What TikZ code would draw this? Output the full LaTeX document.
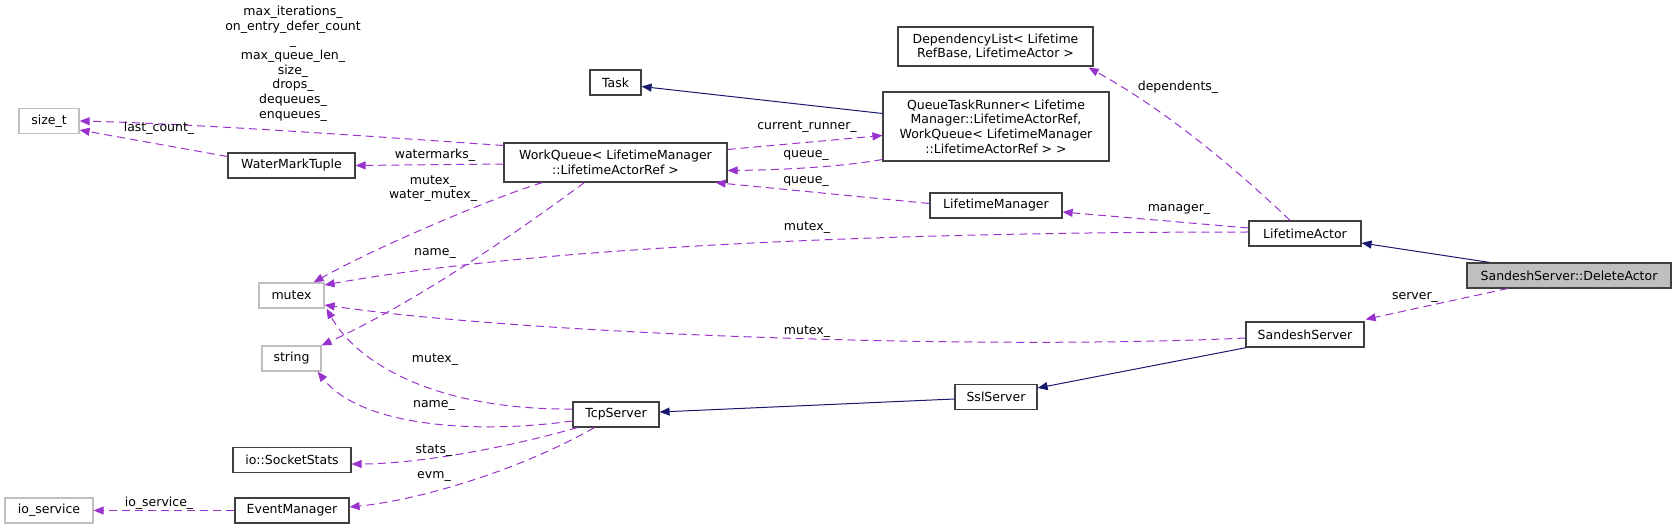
\documentclass[tikz,border=0pt]{standalone}
\usepackage{fontspec}
\setmainfont{DejaVu Sans}
\usepackage{tikz}
\usetikzlibrary{arrows.meta, calc}
\definecolor{uses}{HTML}{9A32CD}
\definecolor{inherit}{HTML}{191970}
\definecolor{undoc}{HTML}{BFBFBF}
\definecolor{boxline}{HTML}{404040}

\begin{document}
\begin{tikzpicture}[
        x=1pt, y=-1pt,
        font=\fontsize{12.5}{14.7}\selectfont,
        cls/.style={draw=boxline, fill=white, line width=1.2pt,
                    minimum height=25, inner sep=2pt, align=center},
        ext/.style={cls, draw=undoc},
        cur/.style={cls, fill=undoc},
        mem/.style={-{Triangle[length=10pt, width=8pt]}, uses, line width=1pt,
                    dash pattern=on 8pt off 5pt},
        base/.style={-{Triangle[length=10pt, width=8pt]}, inherit, line width=1pt},
        lbl/.style={inner sep=0pt, align=center},
      ]
        \useasboundingbox (0,0) rectangle (1677,529);

        % classes
        \node[ext, minimum width=60]  (sizet)     at (49,121)     {size\_t};
        \node[cls, minimum width=127] (wmt)       at (291.5,165.5){WaterMarkTuple};
        \node[cls, minimum width=223, minimum height=39] (wq) at (615.5,162.5)
          {WorkQueue< LifetimeManager\\::LifetimeActorRef >};
        \node[cls, minimum width=51]  (task)      at (615.5,82.5) {Task};
        \node[cls, minimum width=226, minimum height=69] (qtr) at (996,126.5)
          {QueueTaskRunner< Lifetime\\Manager::LifetimeActorRef,\\ WorkQueue< LifetimeManager\\::LifetimeActorRef > >};
        \node[cls, minimum width=195, minimum height=39] (deplist) at (995.5,46.5)
          {DependencyList< Lifetime\\RefBase, LifetimeActor >};
        \node[cls, minimum width=132] (lmgr)      at (996,205.5)  {LifetimeManager};
        \node[cls, minimum width=112] (lactor)    at (1305,233.5) {LifetimeActor};
        \node[cur, minimum width=204] (delact)    at (1569,275.5) {SandeshServer::DeleteActor};
        \node[cls, minimum width=118] (sserver)   at (1305,334.5) {SandeshServer};
        \node[cls, minimum width=82]  (ssl)       at (996,397)    {SslServer};
        \node[cls, minimum width=86]  (tcp)       at (616,414.5)  {TcpServer};
        \node[ext, minimum width=65]  (mutex)     at (291.5,295.5){mutex};
        \node[ext, minimum width=59]  (string)    at (291.5,358.5){string};
        \node[cls, minimum width=118] (sockstats) at (292,460)    {io::SocketStats};
        \node[cls, minimum width=114] (evmgr)     at (292,510.5)  {EventManager};
        \node[ext, minimum width=88]  (ioservice) at (49,510.5)   {io\_service};

        % inheritance
        \draw[base] ($(qtr.west)+(0,-13)$) -- ($(task.east)+(0,4)$);
        \draw[base] ($(delact.north west)+(23,0)$) -- ($(lactor.east)+(0,9.5)$);
        \draw[base] ($(sserver.south west)+(1,0)$) -- ($(ssl.east)+(0,-9)$);
        \draw[base] ($(ssl.west)+(0,2)$) -- ($(tcp.east)+(0,-2.5)$);

        % members
        \draw[mem] ($(wq.west)+(0,-17)$) .. controls (380,137) and (200,124) .. (sizet.east);
        \draw[mem] ($(wmt.west)+(0,-9)$) -- ($(sizet.east)+(0,9)$);
        \draw[mem] ($(wq.west)+(0,1.5)$) -- (wmt.east);
        \draw[mem] ($(wq.east)+(0,-13)$) -- ($(qtr.west)+(0,9)$);
        \draw[mem] ($(qtr.west)+(0,33)$) .. controls (840,167) and (780,170) .. ($(wq.east)+(0,8)$);
        \draw[mem] ($(lmgr.west)+(0,-2)$) -- ($(wq.south east)+(-12,0)$);
        \draw[mem] ($(lactor.north)+(-15,0)$) .. controls (1190,125) and (1120,85) .. ($(deplist.south east)+(-5,1)$);
        \draw[mem] ($(lactor.west)+(0,-5.5)$) -- ($(lmgr.east)+(0,6.5)$);
        \draw[mem] ($(lactor.west)+(0,-1.5)$) .. controls (850,232) and (520,250) .. ($(mutex.east)+(0,-10.5)$);
        \draw[mem] ($(wq.south west)+(39,0)$) .. controls (500,195) and (380,245) .. ($(mutex.north east)+(-11,0)$);
        \draw[mem] ($(wq.south west)+(81,0)$) .. controls (520,230) and (420,300) .. (string.north east);
        \draw[mem] ($(sserver.west)+(0,3.5)$) .. controls (1000,350) and (540,336) .. ($(mutex.east)+(0,9.5)$);
        \draw[mem] ($(tcp.west)+(0,-5.5)$) .. controls (430,410) and (355,360) .. ($(mutex.south east)+(2,0)$);
        \draw[mem] ($(tcp.west)+(0,6.5)$) .. controls (470,435) and (360,425) .. ($(string.south east)+(-4,0)$);
        \draw[mem] ($(tcp.south west)+(5,0)$) .. controls (480,455) and (400,464) .. ($(sockstats.east)+(0,4)$);
        \draw[mem] ($(tcp.south west)+(22,0)$) .. controls (520,470) and (420,500) .. ($(evmgr.east)+(0,-3.5)$);
        \draw[mem] (evmgr.west) -- (ioservice.east);
        \draw[mem] ($(delact.south west)+(41,0)$) -- ($(sserver.north east)+(1,-2)$);

        % member names
        \node[lbl] (l_counts)   at (293,63.5)
          {max\_iterations\_\\on\_entry\_defer\_count\\\_\\max\_queue\_len\_\\size\_\\drops\_\\dequeues\_\\enqueues\_};
        \node[lbl] (l_last)     at (159,128)  {last\_count\_};
        \node[lbl] (l_water)    at (435,155)  {watermarks\_};
        \node[lbl] (l_runner)   at (807,127)  {current\_runner\_};
        \node[lbl] (l_queue)    at (806,155)  {queue\_};
        \node[lbl] (l_queue2)   at (806,181)  {queue\_};
        \node[lbl] (l_deps)     at (1178,87)  {dependents\_};
        \node[lbl] (l_manager)  at (1179,209) {manager\_};
        \node[lbl] (l_lamutex)  at (807,228)  {mutex\_};
        \node[lbl] (l_wqmutex)  at (433,188.5){mutex\_\\water\_mutex\_};
        \node[lbl] (l_wqname)   at (435,253)  {name\_};
        \node[lbl] (l_ssmutex)  at (807,332)  {mutex\_};
        \node[lbl] (l_server)   at (1415,297) {server\_};
        \node[lbl] (l_tcpmutex) at (435,360)  {mutex\_};
        \node[lbl] (l_tcpname)  at (434,405)  {name\_};
        \node[lbl] (l_stats)    at (434,451)  {stats\_};
        \node[lbl] (l_evm)      at (434,476)  {evm\_};
        \node[lbl] (l_iosvc)    at (159,503)  {io\_service\_};
      \end{tikzpicture}
\end{document}
